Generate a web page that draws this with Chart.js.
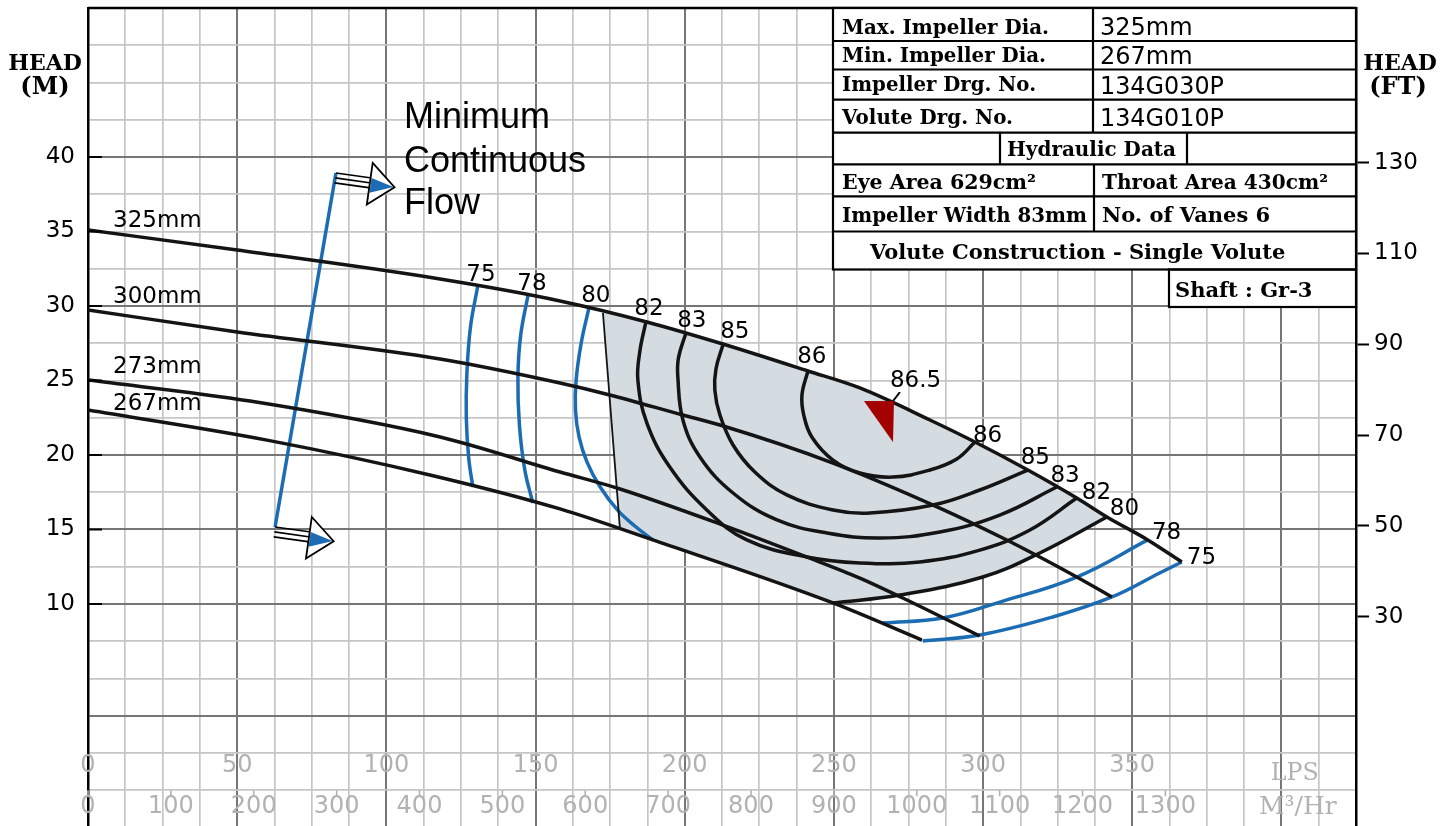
<!DOCTYPE html>
<html><head><meta charset="utf-8"><title>Pump performance curve</title>
<script src="https://cdn.jsdelivr.net/npm/chart.js@4.4.1/dist/chart.umd.min.js"></script>
<style>html,body{margin:0;padding:0;background:#fff;overflow:hidden;}#c{display:block;}</style>
</head><body>
<canvas id="c" width="1447" height="826"></canvas>
<script>
// ===== Axis tick labels =====
const lpsTickLabels = [0, 50, 100, 150, 200, 250, 300, 350];
const m3hTickLabels = [0, 100, 200, 300, 400, 500, 600, 700, 800, 900, 1000, 1100, 1200, 1300];
const headMTickLabels = [10, 15, 20, 25, 30, 35, 40];
const headFtTickLabels = [30, 50, 70, 90, 110, 130];
const majorHeadGrid = [40, 30, 20, 15, 10, 2.5];

// ===== Impeller head curves (flow in LPS, head in m) =====
const flow325 = [0, 50, 118, 158.2, 187.3, 212.8, 241.3, 258.7, 282.2, 297.3, 315.0, 331.4, 341.5, 355.2, 366.6];
const head325 = [35.1, 33.76, 31.81, 30.34, 28.93, 27.45, 25.64, 24.5, 22.35, 20.87, 18.99, 17.11, 15.84, 14.3, 12.82];
const flow300 = [0, 50, 118, 158.2, 174.9, 199.4, 211.8, 249.7, 285.5, 306.6, 319.0, 331.4, 343.2];
const head300 = [29.73, 28.26, 26.44, 24.83, 24.03, 22.68, 22.01, 19.46, 16.44, 14.43, 13.15, 11.81, 10.47];
const flow273 = [0, 54.3, 118, 158.2, 178.3, 212.8, 241.0, 258.7, 273.1, 298.9];
const head273 = [25.03, 23.62, 21.21, 18.86, 17.72, 15.3, 13.15, 11.74, 10.4, 7.85];
const flow267 = [0, 60, 114.6, 158.2, 189.3, 249.7, 279.5];
const head267 = [23.02, 21.0, 18.66, 16.38, 14.3, 10.07, 7.58];
const diameterLabels = ['325mm', '300mm', '273mm', '267mm'];
const diameterLabelHead = [35.3, 30.2, 25.5, 23.02];

// ===== Efficiency (%) iso-lines =====
const eff75LeftFlow = [130.7, 128.2, 127.0, 126.8, 127.6, 129.0];
const eff75LeftHead = [31.41, 28.6, 25.5, 22.5, 19.8, 17.85];
const eff78LeftFlow = [147.5, 145.0, 144.1, 144.6, 146.4, 149.1];
const eff78LeftHead = [30.74, 28.0, 25.2, 22.0, 19.0, 16.78];
const eff80LeftFlow = [167.9, 165.3, 163.6, 163.4, 164.6, 167.3, 171.5, 177.5, 183.5, 189.3];
const eff80LeftHead = [29.87, 27.5, 25.0, 23.0, 21.2, 19.5, 17.9, 16.3, 15.2, 14.3];
const eff82Flow = [187.0, 185.0, 184.3, 187.3, 195.0, 207.4, 220.8, 241.0, 258.7, 278.8, 298.9, 315.7, 331.4];
const eff82Head = [28.93, 27.0, 25.03, 22.15, 19.19, 16.31, 14.3, 13.15, 12.75, 12.82, 13.62, 14.97, 17.11];
const eff83Flow = [200.4, 197.9, 197.7, 199.4, 205.1, 216.2, 230.9, 247.7, 265.4, 285.5, 305.6, 324.7];
const eff83Head = [28.19, 26.5, 25.23, 22.35, 19.87, 17.45, 15.64, 14.77, 14.43, 14.83, 15.97, 17.85];
const eff85Flow = [212.8, 210.5, 210.1, 211.8, 216.2, 223.5, 234.2, 249.7, 262.1, 283.2, 298.9, 315.0];
const eff85Head = [27.38, 25.8, 24.36, 22.68, 20.67, 18.86, 17.32, 16.31, 16.11, 16.64, 17.65, 18.99];
const eff86Flow = [241.3, 239.3, 239.9, 242.6, 249.7, 258.7, 269.8, 282.2, 291.2, 297.3];
const eff86Head = [25.64, 24.03, 22.68, 21.21, 19.66, 18.79, 18.52, 18.99, 19.73, 20.87];
const eff80RightFlow = [249.7, 272.1, 299.9, 319.0, 341.5];
const eff80RightHead = [10.07, 10.6, 11.81, 13.42, 15.84];
const eff78RightFlow = [266.4, 286.5, 305.6, 331.4, 355.2];
const eff78RightHead = [8.72, 9.06, 10.13, 11.81, 14.3];
const eff75RightFlow = [279.8, 298.9, 323.4, 343.2, 359.2, 366.6];
const eff75RightHead = [7.52, 7.92, 9.13, 10.47, 12.08, 12.82];
const prefLeftEdgeFlow = [172.6, 178.3];
const prefLeftEdgeHead = [29.53, 15.04];

// Preferred operating region (shaded)
const shadeFlow = [172.6, 187.3, 200.7, 212.8, 241.3, 258.7, 282.2, 297.3, 315.0, 324.7, 331.4, 341.5, 319.0, 299.9, 272.1, 249.7, 189.3, 178.3];
const shadeHead = [29.53, 28.93, 28.19, 27.45, 25.64, 24.5, 22.35, 20.87, 18.99, 17.85, 17.11, 15.84, 13.42, 11.81, 10.6, 10.07, 14.3, 15.04];

// Efficiency labels: top row (centre, baseline) and right row (left, baseline)
const effTopText = ['75', '78', '80', '82', '83', '85', '86'];
const effTopFlow = [131.7, 148.8, 170.2, 188.0, 202.4, 216.8, 242.6];
const effTopHead = [31.68, 31.07, 30.27, 29.4, 28.59, 27.85, 26.17];
const effRightText = ['86', '85', '83', '82', '80', '78', '75'];
const effRightFlow = [296.6, 312.6, 322.6, 333.1, 342.5, 356.6, 368.3];
const effRightHead = [20.87, 19.4, 18.19, 17.05, 15.97, 14.36, 12.68];

// Best efficiency point
const bepFlow = [269.8];
const bepHead = [20.87];
const bepText = '86.5';
const bepTextFlow = 268.8;
const bepTextHead = 24.56;

// Minimum continuous flow line
const mcfFlow = [62.7, 83.1];
const mcfHead = [15.17, 38.93];
const mcfText = ['Minimum', 'Continuous', 'Flow'];
const mcfTextFlow = 105.9;
const mcfTextHead = [41.95, 39.0, 36.2];

// ===== Data table =====
const tableLeft = [['Max. Impeller Dia.', '325mm'], ['Min. Impeller Dia.', '267mm'], ['Impeller Drg. No.', '134G030P'], ['Volute Drg. No.', '134G010P']];
const tableHydraulic = 'Hydraulic Data';
const tableRow6 = ['Eye Area 629cm²', 'Throat Area 430cm²'];
const tableRow7 = ['Impeller Width 83mm', 'No. of Vanes 6'];
const tableRow8 = 'Volute Construction - Single Volute';
const tableShaft = 'Shaft : Gr-3';

// ===== helpers =====
const FT = 0.3048;
const yMin = -4.9, yMax = 50, xMax = 425;
const pts = (xs, ys) => xs.map((v, i) => ({ x: v, y: ys[i] }));
const BLACK = '#141414', BLUE = '#1c6cb4';
const SANS = '"DejaVu Sans", sans-serif';
const SERIF = '"DejaVu Serif", serif';

const bepImg = document.createElement('canvas');
bepImg.width = 80; bepImg.height = 100;
(function () {
  const g = bepImg.getContext('2d');
  g.fillStyle = '#a30000';
  g.beginPath(); g.moveTo(11, 9); g.lineTo(41, 9); g.lineTo(40, 50); g.closePath(); g.fill();
  g.strokeStyle = '#000'; g.lineWidth = 2;
  g.beginPath(); g.moveTo(40, 9); g.lineTo(47, 0); g.stroke();
})();

function curve(data, color, width, opts) {
  return Object.assign({ type: 'line', data, borderColor: color, borderWidth: width, pointRadius: 0, pointHoverRadius: 0, fill: false, tension: 0.4, order: 5 }, opts || {});
}

const datasets = [
  { type: 'line', data: pts(shadeFlow, shadeHead), fill: 'shape', backgroundColor: '#d4dbe1', borderWidth: 0, pointRadius: 0, pointHoverRadius: 0, tension: 0, order: 50 },
  curve(pts(flow325, head325), BLACK, 3.5, { cubicInterpolationMode: 'monotone' }),
  curve(pts(flow300, head300), BLACK, 3.5, { cubicInterpolationMode: 'monotone' }),
  curve(pts(flow273, head273), BLACK, 3.5, { cubicInterpolationMode: 'monotone' }),
  curve(pts(flow267, head267), BLACK, 3.5, { cubicInterpolationMode: 'monotone' }),
  curve(pts(eff82Flow, eff82Head), BLACK, 3.5),
  curve(pts(eff83Flow, eff83Head), BLACK, 3.5),
  curve(pts(eff85Flow, eff85Head), BLACK, 3.5),
  curve(pts(eff86Flow, eff86Head), BLACK, 3.5),
  curve(pts(eff80RightFlow, eff80RightHead), BLACK, 3.5),
  curve(pts(prefLeftEdgeFlow, prefLeftEdgeHead), BLACK, 1.8, { tension: 0 }),
  curve(pts(eff75LeftFlow, eff75LeftHead), BLUE, 3.5),
  curve(pts(eff78LeftFlow, eff78LeftHead), BLUE, 3.5),
  curve(pts(eff80LeftFlow, eff80LeftHead), BLUE, 3.5),
  curve(pts(eff78RightFlow, eff78RightHead), BLUE, 3.5),
  curve(pts(eff75RightFlow, eff75RightHead), BLUE, 3.5),
  curve(pts(mcfFlow, mcfHead), BLUE, 3.5, { tension: 0 }),
  { type: 'line', data: pts(bepFlow, bepHead), showLine: false, pointStyle: bepImg, pointRadius: 5, pointHoverRadius: 0, order: 0 }
];

function gridTicks(from, to, step) { const t = []; for (let v = from; v <= to + 1e-9; v += step) t.push({ value: +v.toFixed(3) }); return t; }

function text(ctx, s, x, y, font, color, align, base, maxW) {
  ctx.font = font; ctx.fillStyle = color; ctx.textAlign = align || 'left'; ctx.textBaseline = base || 'alphabetic';
  if (maxW) ctx.fillText(s, x, y, maxW); else ctx.fillText(s, x, y);
}

function arrow(ctx, x0, y0, ang) {
  ctx.save();
  ctx.translate(x0, y0); ctx.rotate(ang);
  ctx.strokeStyle = '#000'; ctx.lineWidth = 1.6;
  for (const v of [0, 5, 10]) { ctx.beginPath(); ctx.moveTo(0, v); ctx.lineTo(38, v); ctx.stroke(); }
  ctx.fillStyle = '#fff';
  ctx.beginPath(); ctx.moveTo(35, -15); ctx.lineTo(60, 6); ctx.lineTo(35, 27); ctx.closePath(); ctx.fill();
  ctx.fillStyle = BLUE;
  ctx.beginPath(); ctx.moveTo(36, 0); ctx.lineTo(59, 6); ctx.lineTo(36, 15); ctx.closePath(); ctx.fill();
  ctx.lineWidth = 1.8; ctx.beginPath(); ctx.moveTo(35, -15); ctx.lineTo(60, 6); ctx.lineTo(35, 27); ctx.closePath(); ctx.stroke();
  ctx.restore();
}

function drawTable(ctx) {
  const L = 833, R = 1356, C1 = 1093, C2 = 1094, HL = 1000, HR = 1187, SL = 1169;
  const rows = [8, 41, 69.5, 99.7, 132.6, 164.4, 196.3, 231.5, 269.5];
  const SB = 307;
  ctx.save();
  ctx.fillStyle = '#fff';
  ctx.fillRect(L, rows[0], R - L, rows[8] - rows[0]);
  ctx.fillRect(SL, rows[8], R - SL, SB - rows[8]);
  ctx.strokeStyle = '#000'; ctx.lineWidth = 2.2;
  ctx.strokeRect(L, rows[0], R - L, rows[8] - rows[0]);
  ctx.strokeRect(SL, rows[8], R - SL, SB - rows[8]);
  ctx.beginPath();
  for (let i = 1; i < 8; i++) { ctx.moveTo(L, rows[i]); ctx.lineTo(R, rows[i]); }
  ctx.moveTo(C1, rows[0]); ctx.lineTo(C1, rows[4]);
  ctx.moveTo(HL, rows[4]); ctx.lineTo(HL, rows[5]);
  ctx.moveTo(HR, rows[4]); ctx.lineTo(HR, rows[5]);
  ctx.moveTo(C2, rows[5]); ctx.lineTo(C2, rows[7]);
  ctx.stroke();
  const lab = 'bold 21px ' + SERIF, val = '24px ' + SANS;
  const lb = [33.6, 62, 91.3, 124], vb = [35.2, 63.8, 94, 125.8];
  const lw = [207, 204, 194, 171], vw = [95, 94, 124, 124];
  tableLeft.forEach((r, i) => {
    text(ctx, r[0], 842, lb[i], lab, '#000', 'left', 'alphabetic', lw[i]);
    text(ctx, r[1], 1100, vb[i], val, '#000', 'left', 'alphabetic', vw[i]);
  });
  text(ctx, tableHydraulic, 1007, 156, lab, '#000', 'left', 'alphabetic', 169);
  text(ctx, tableRow6[0], 842, 188.6, lab, '#000', 'left', 'alphabetic', 194);
  text(ctx, tableRow6[1], 1102, 188.6, lab, '#000', 'left', 'alphabetic', 226);
  text(ctx, tableRow7[0], 842, 221.5, lab, '#000', 'left', 'alphabetic', 245);
  text(ctx, tableRow7[1], 1102, 221.5, lab, '#000', 'left', 'alphabetic', 170);
  text(ctx, tableRow8, 870, 259, lab, '#000', 'left', 'alphabetic', 419);
  text(ctx, tableShaft, 1175, 297, lab, '#000', 'left', 'alphabetic', 145);
  ctx.restore();
}

const deco = {
  id: 'deco',
  afterDatasetsDraw(chart) {
    const { ctx, chartArea: a } = chart;
    const x = chart.scales.x, y = chart.scales.y;
    const X = v => x.getPixelForValue(v), Y = v => y.getPixelForValue(v);
    ctx.save();
    // top frame
    ctx.strokeStyle = '#000'; ctx.lineWidth = 2.5;
    ctx.beginPath(); ctx.moveTo(a.left, a.top); ctx.lineTo(a.right, a.top); ctx.stroke();
    // inner ticks of head (m) axis
    ctx.lineWidth = 2;
    headMTickLabels.forEach(v => { ctx.beginPath(); ctx.moveTo(a.left, Y(v)); ctx.lineTo(a.left + 14, Y(v)); ctx.stroke(); });
    // flow axis labels (inside grid)
    const gray = '#b2b2b2', f = '24px ' + SANS;
    lpsTickLabels.forEach(v => text(ctx, String(v), X(v), Y(-0.87), f, gray, 'center', 'middle'));
    m3hTickLabels.forEach(v => {
      const px = X(v / 3.6);
      ctx.strokeStyle = gray; ctx.lineWidth = 1.6;
      ctx.beginPath(); ctx.moveTo(px, Y(-2.5)); ctx.lineTo(px, Y(-2.5) + 6); ctx.stroke();
      text(ctx, String(v), px, Y(-3.62), f, gray, 'center', 'middle');
    });
    text(ctx, 'LPS', X(404.5), Y(-1.41), '25px ' + SERIF, gray, 'center', 'middle', 48);
    text(ctx, 'M³/Hr', X(405.5), Y(-3.69), '25px ' + SERIF, gray, 'center', 'middle', 80);
    // axis titles
    text(ctx, 'HEAD', 45, 70, 'bold 22px ' + SERIF, '#000', 'center', 'alphabetic', 76);
    text(ctx, '(M)', 45, 94, 'bold 24px ' + SERIF, '#000', 'center', 'alphabetic');
    text(ctx, 'HEAD', 1400, 70, 'bold 22px ' + SERIF, '#000', 'center', 'alphabetic', 76);
    text(ctx, '(FT)', 1398, 94, 'bold 24px ' + SERIF, '#000', 'center', 'alphabetic');
    // diameter labels
    const cf = '23px ' + SANS;
    diameterLabels.forEach((s, i) => text(ctx, s, X(8.4), Y(diameterLabelHead[i]), cf, '#000', 'left', 'alphabetic'));
    // efficiency labels
    effTopText.forEach((s, i) => text(ctx, s, X(effTopFlow[i]), Y(effTopHead[i]), cf, '#000', 'center', 'alphabetic'));
    effRightText.forEach((s, i) => text(ctx, s, X(effRightFlow[i]), Y(effRightHead[i]), cf, '#000', 'left', 'alphabetic'));
    text(ctx, bepText, X(bepTextFlow), Y(bepTextHead), cf, '#000', 'left', 'alphabetic');
    // minimum continuous flow
    mcfText.forEach((s, i) => text(ctx, s, X(mcfTextFlow), Y(mcfTextHead[i]), '36px "Liberation Sans", Arial, sans-serif', '#000', 'left', 'alphabetic'));
    const ang = 8 * Math.PI / 180;
    arrow(ctx, X(mcfFlow[1]), Y(mcfHead[1]), ang);
    arrow(ctx, X(mcfFlow[0]), Y(mcfHead[0]), ang);
    ctx.restore();
  },
  afterDraw(chart) { drawTable(chart.ctx); }
};

new Chart(document.getElementById('c'), {
  type: 'line',
  data: { datasets },
  options: {
    responsive: false, animation: false, events: [],
    layout: { autoPadding: false, padding: { top: 8, left: 0, right: 0, bottom: 0 } },
    plugins: { legend: { display: false }, tooltip: { enabled: false }, title: { display: false } },
    scales: {
      x: {
        type: 'linear', min: 0, max: xMax, position: 'bottom',
        afterBuildTicks: s => { s.ticks = gridTicks(0, xMax, 12.5); },
        afterFit: s => { s.height = 0; s.paddingTop = 0; s.paddingBottom = 0; s.paddingLeft = 0; s.paddingRight = 0; },
        ticks: { display: false },
        border: { display: false },
        grid: {
          drawTicks: false,
          color: c => (c.tick && Math.abs(c.tick.value % 50) < 1e-6) ? '#767676' : '#c6c6c6',
          lineWidth: c => (c.tick && Math.abs(c.tick.value % 50) < 1e-6) ? 2 : 1.7
        }
      },
      y: {
        type: 'linear', min: yMin, max: yMax, position: 'left',
        afterBuildTicks: s => { s.ticks = gridTicks(-2.5, 50, 2.5); },
        afterFit: s => { s.width = 88; s.paddingTop = 0; s.paddingBottom = 0; },
        ticks: {
          autoSkip: false, padding: 13, color: '#000', font: { family: 'DejaVu Sans', size: 23 },
          callback: v => headMTickLabels.includes(v) ? String(v) : ''
        },
        border: { display: true, color: '#000', width: 2.5 },
        grid: {
          drawTicks: false,
          color: c => {
            const v = c.tick ? c.tick.value : 0;
            if (v >= 50) return '#000';
            return majorHeadGrid.includes(v) ? '#767676' : '#c6c6c6';
          },
          lineWidth: c => (c.tick && majorHeadGrid.includes(c.tick.value)) ? 2 : 1.7
        }
      },
      y2: {
        type: 'linear', min: yMin / FT, max: yMax / FT, position: 'right',
        afterBuildTicks: s => { s.ticks = headFtTickLabels.map(v => ({ value: v })); },
        afterFit: s => { s.width = 1447 - 1356; s.paddingTop = 0; s.paddingBottom = 0; },
        ticks: { autoSkip: false, padding: 5, color: '#000', font: { family: 'DejaVu Sans', size: 23 } },
        border: { display: true, color: '#000', width: 2.5 },
        grid: { drawOnChartArea: false, drawTicks: true, tickLength: 13, tickColor: '#000', tickWidth: 2 }
      }
    }
  },
  plugins: [deco]
});
</script>
</body></html>
